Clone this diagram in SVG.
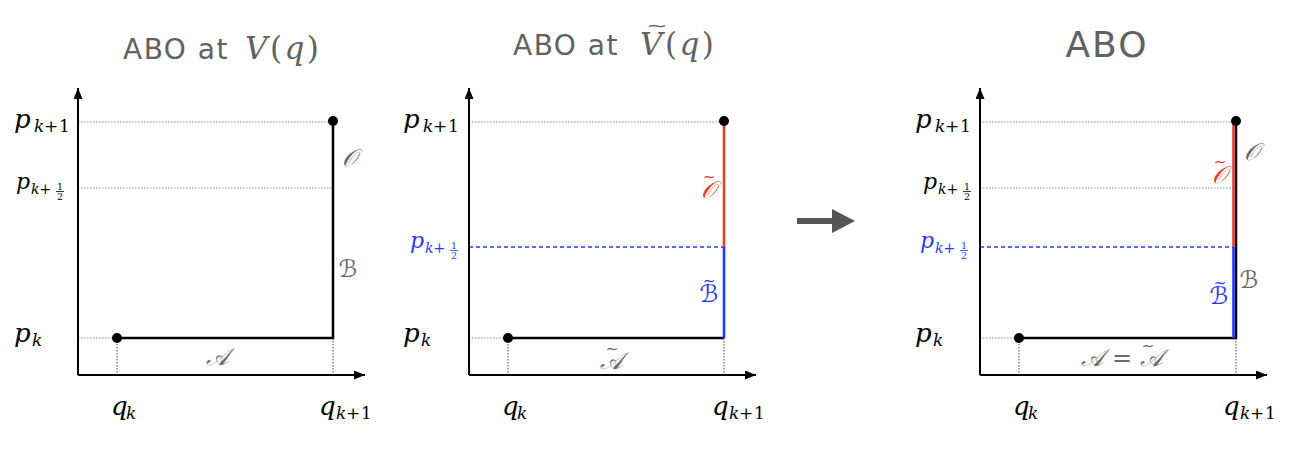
<svg xmlns="http://www.w3.org/2000/svg" width="1304" height="454" viewBox="0 0 1304 454">
<defs>
<marker id="ah" markerWidth="11" markerHeight="9" refX="11" refY="4.5" orient="auto" markerUnits="userSpaceOnUse"><path d="M0,0 L11,4.5 L0,9 z" fill="#000"/></marker>
</defs>
<style>
.ax{stroke:#000;stroke-width:2;fill:none}
.ln{stroke:#000;stroke-width:2.5;fill:none}
.dg{stroke:#8a8a8a;stroke-width:1;stroke-dasharray:1.5 1.5;fill:none}
.dk{stroke:#444;stroke-width:1;stroke-dasharray:1.5 1.5;fill:none}
.db{stroke:#1f3cff;stroke-width:1.6;stroke-dasharray:4 3;fill:none}
.red{stroke:#e4402c;stroke-width:2.6;fill:none}
.blue{stroke:#1f3cff;stroke-width:2.6;fill:none}
.m{font-family:"DejaVu Serif","Liberation Serif",serif;font-style:italic;font-size:26px;fill:#000}
.mb{fill:#1f3cff}
.n{font-style:normal}
.s{font-size:17px}
.h{font-size:22px}
.hs{font-size:14px}
.fr{font-size:9.5px;font-style:normal}
.t{font-family:"DejaVu Sans","Liberation Sans",sans-serif;font-size:28px;letter-spacing:1.5px;fill:#616161}
.tm{font-family:"DejaVu Serif","Liberation Serif",serif;font-style:italic;font-size:31px;letter-spacing:2.5px}
.cal{font-family:"DejaVu Serif","DejaVu Sans",serif;font-style:italic;font-size:24px;fill:#6a6a6a}
.cr{fill:#e4402c}
.cb{fill:#1f3cff}
.tl{font-family:"DejaVu Sans",sans-serif;font-size:15px;font-style:normal}
.fb{stroke-width:0.8}
</style>

<g id="title1"><text class="t" x="123" y="59">ABO at <tspan class="tm" x="245">V<tspan class="n">(</tspan>q<tspan class="n">)</tspan></tspan></text></g>
<g id="title2"><text class="t" x="513" y="55">ABO at <tspan class="tm" x="640">V<tspan class="n">(</tspan>q<tspan class="n">)</tspan></tspan></text>
<text class="tl" transform="translate(657,31) scale(1.7,1.1)" text-anchor="middle" fill="#616161">~</text></g>
<g id="title3"><text class="t" x="1107" y="57" text-anchor="middle" style="font-size:36px;letter-spacing:2px">ABO</text></g>

<g id="arrow-mid" fill="#555">
<rect x="797" y="218" width="36" height="6"/>
<polygon points="832,209 855,221 832,233"/>
</g>

<g id="panel1">
<path class="dg" d="M78,122 H333 M78,188 H333 M78,338 H117"/>
<path class="dk" d="M117,338 V375 M333,338 V375"/>
<path class="ax" d="M78,375 V88" marker-end="url(#ah)"/>
<path class="ax" d="M78,375 H365" marker-end="url(#ah)"/>
<path class="ln" d="M117,338 H333 V121"/>
<circle cx="117" cy="338" r="5"/>
<circle cx="333" cy="121" r="5"/>
<text class="m" transform="translate(14,128)"><tspan x="0" y="0">p</tspan><tspan class="s" x="20" y="4">k</tspan><tspan class="s n" x="30" y="4">+</tspan><tspan class="s n" x="45" y="4">1</tspan></text>
<text class="m" transform="translate(16,189)"><tspan class="h" x="0" y="0">p</tspan><tspan class="hs" x="15" y="5">k</tspan><tspan class="hs n" x="23.5" y="5">+</tspan><tspan class="fr" x="44" y="0.5" text-anchor="middle">1</tspan><tspan class="fr" x="44" y="10.5" text-anchor="middle">2</tspan></text>
<line class="fb" x1="56" y1="191.5" x2="64" y2="191.5" stroke="#000"/>
<text class="m" transform="translate(14,342)"><tspan x="0" y="0">p</tspan><tspan class="s" x="18" y="4">k</tspan></text>
<text class="m" transform="translate(111,415)"><tspan x="0" y="0">q</tspan><tspan class="s" x="15" y="4">k</tspan></text>
<text class="m" transform="translate(319,415)"><tspan x="0" y="0">q</tspan><tspan class="s" x="17" y="4">k</tspan><tspan class="s n" x="27" y="4">+</tspan><tspan class="s n" x="42" y="4">1</tspan></text>
<text class="cal" x="349" y="166" text-anchor="middle">𝒪</text>
<text class="cal" x="348" y="277" text-anchor="middle">ℬ</text>
<text class="cal" x="217" y="365" text-anchor="middle">𝒜</text>
</g>

<g id="panel2" transform="translate(391,0)">
<path class="dg" d="M78,122 H333 M78,338 H117"/>
<path class="dk" d="M117,338 V375 M333,338 V375"/>
<path class="db" d="M78,247 H333"/>
<path class="ax" d="M78,375 V88" marker-end="url(#ah)"/>
<path class="ax" d="M78,375 H365" marker-end="url(#ah)"/>
<path class="ln" d="M117,338 H333"/>
<path class="red" d="M333,121 V247"/>
<path class="blue" d="M333,247 V338"/>
<circle cx="117" cy="338" r="5"/>
<circle cx="333" cy="121" r="5"/>
<text class="m" transform="translate(12,128)"><tspan x="0" y="0">p</tspan><tspan class="s" x="20" y="4">k</tspan><tspan class="s n" x="30" y="4">+</tspan><tspan class="s n" x="45" y="4">1</tspan></text>
<text class="m mb" transform="translate(19,248)"><tspan class="h" x="0" y="0">p</tspan><tspan class="hs" x="15" y="5">k</tspan><tspan class="hs n" x="23.5" y="5">+</tspan><tspan class="fr" x="44" y="0.5" text-anchor="middle">1</tspan><tspan class="fr" x="44" y="10.5" text-anchor="middle">2</tspan></text>
<line class="fb" x1="59" y1="250.5" x2="67" y2="250.5" stroke="#1f3cff"/>
<text class="m" transform="translate(12,342)"><tspan x="0" y="0">p</tspan><tspan class="s" x="18" y="4">k</tspan></text>
<text class="m" transform="translate(111,415)"><tspan x="0" y="0">q</tspan><tspan class="s" x="15" y="4">k</tspan></text>
<text class="m" transform="translate(321,415)"><tspan x="0" y="0">q</tspan><tspan class="s" x="17" y="4">k</tspan><tspan class="s n" x="27" y="4">+</tspan><tspan class="s n" x="42" y="4">1</tspan></text>
<text class="cal cr"><tspan x="317" y="198" text-anchor="middle">𝒪</tspan><tspan class="tl" x="318" y="182" text-anchor="middle">~</tspan></text>
<text class="cal cb"><tspan x="318" y="302" text-anchor="middle">ℬ</tspan><tspan class="tl" x="318" y="286" text-anchor="middle">~</tspan></text>
<text class="cal"><tspan x="220" y="369" text-anchor="middle">𝒜</tspan><tspan class="tl" x="221" y="354" text-anchor="middle">~</tspan></text>
</g>

<g id="panel3" transform="translate(902,0)">
<path class="dg" d="M78,122 H334 M78,188 H334 M78,338 H117"/>
<path class="dk" d="M117,338 V375 M334,338 V375"/>
<path class="db" d="M78,247 H331"/>
<path class="ax" d="M78,375 V88" marker-end="url(#ah)"/>
<path class="ax" d="M78,375 H365" marker-end="url(#ah)"/>
<path class="ln" d="M117,338 H334 V121"/>
<path class="red" d="M331.5,123 V247"/>
<path class="blue" d="M331.5,247 V338"/>
<circle cx="117" cy="338" r="5"/>
<circle cx="334" cy="121" r="5"/>
<text class="m" transform="translate(13,128)"><tspan x="0" y="0">p</tspan><tspan class="s" x="20" y="4">k</tspan><tspan class="s n" x="30" y="4">+</tspan><tspan class="s n" x="45" y="4">1</tspan></text>
<text class="m" transform="translate(21,189)"><tspan class="h" x="0" y="0">p</tspan><tspan class="hs" x="15" y="5">k</tspan><tspan class="hs n" x="23.5" y="5">+</tspan><tspan class="fr" x="44" y="0.5" text-anchor="middle">1</tspan><tspan class="fr" x="44" y="10.5" text-anchor="middle">2</tspan></text>
<line class="fb" x1="61" y1="191.5" x2="69" y2="191.5" stroke="#000"/>
<text class="m mb" transform="translate(18,248)"><tspan class="h" x="0" y="0">p</tspan><tspan class="hs" x="15" y="5">k</tspan><tspan class="hs n" x="23.5" y="5">+</tspan><tspan class="fr" x="44" y="0.5" text-anchor="middle">1</tspan><tspan class="fr" x="44" y="10.5" text-anchor="middle">2</tspan></text>
<line class="fb" x1="58" y1="250.5" x2="66" y2="250.5" stroke="#1f3cff"/>
<text class="m" transform="translate(13,342)"><tspan x="0" y="0">p</tspan><tspan class="s" x="18" y="4">k</tspan></text>
<text class="m" transform="translate(111,415)"><tspan x="0" y="0">q</tspan><tspan class="s" x="15" y="4">k</tspan></text>
<text class="m" transform="translate(321,415)"><tspan x="0" y="0">q</tspan><tspan class="s" x="17" y="4">k</tspan><tspan class="s n" x="27" y="4">+</tspan><tspan class="s n" x="42" y="4">1</tspan></text>
<text class="cal" x="349" y="160" text-anchor="middle">𝒪</text>
<text class="cal cr"><tspan x="317" y="183" text-anchor="middle">𝒪</tspan><tspan class="tl" x="318" y="167" text-anchor="middle">~</tspan></text>
<text class="cal" x="347" y="288" text-anchor="middle">ℬ</text>
<text class="cal cb"><tspan x="317" y="304" text-anchor="middle">ℬ</tspan><tspan class="tl" x="318" y="288" text-anchor="middle">~</tspan></text>
<text class="cal"><tspan x="220" y="366" text-anchor="middle">𝒜 = 𝒜</tspan><tspan class="tl" x="246" y="351" text-anchor="middle">~</tspan></text>
</g>
</svg>
